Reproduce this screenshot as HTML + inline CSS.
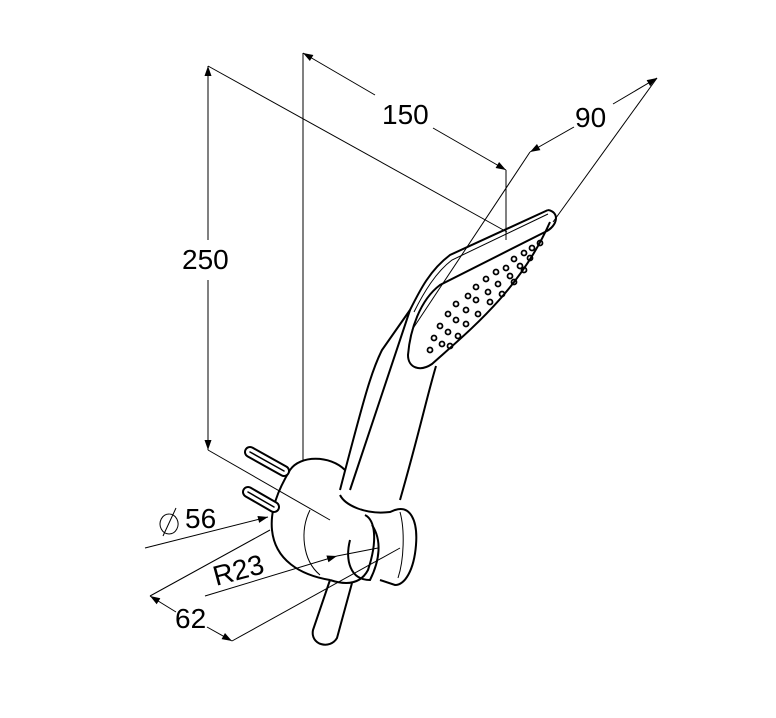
<!DOCTYPE html>
<html><head><style>html,body{margin:0;padding:0;background:#fff}svg{display:block}</style></head>
<body>
<svg width="776" height="718" viewBox="0 0 776 718" xmlns="http://www.w3.org/2000/svg" font-family="Liberation Sans, Arial, sans-serif">
<defs><marker id="a" viewBox="0 0 10 10" refX="10" refY="5" markerWidth="14" markerHeight="10" markerUnits="userSpaceOnUse" orient="auto-start-reverse"><path d="M0,1.5 L10,5 L0,8.5z" fill="#000"/></marker></defs>
<g stroke="#000" fill="none" stroke-width="1">
<line x1="208" y1="66" x2="208" y2="240" marker-start="url(#a)"/>
<line x1="208" y1="280" x2="208" y2="450" marker-end="url(#a)"/>
<line x1="208" y1="66" x2="507" y2="232"/>
<line x1="208" y1="450" x2="330" y2="520"/>
<line x1="303" y1="53" x2="303" y2="460"/>
<line x1="303" y1="53" x2="375" y2="95" marker-start="url(#a)"/>
<line x1="433" y1="128" x2="506" y2="170" marker-end="url(#a)"/>
<line x1="506" y1="170" x2="506" y2="240"/>
<line x1="530" y1="152" x2="574" y2="127" marker-start="url(#a)"/>
<line x1="613" y1="104" x2="657" y2="78" marker-end="url(#a)"/>
<line x1="530" y1="152" x2="412" y2="330"/>
<line x1="657" y1="78" x2="553" y2="222"/>
<g stroke-width="2">
<path d="M548,210 C560,212 558,226 545,232 L440,285 C420,300 410,330 408,355 C408,368 420,372 432,364 C470,330 520,290 550,222"/>
<path d="M548,210 L450,255 C430,270 420,290 410,310 L350,490"/>
<path d="M436,366 C426,400 420,430 400,500"/>
<path d="M410,310 L382,350 C372,370 366,390 340,490"/>
</g>
<path d="M548,214 L452,260 C436,272 424,292 414,312" />
<g stroke-width="2">
<path d="M290,470 C300,455 330,455 345,470 M290,470 C278,490 270,510 272,530 C275,560 300,575 330,580"/>
<path d="M340,495 C345,505 365,515 390,512 L395,510 C410,505 418,520 416,545 C414,570 405,585 395,585 L380,580"/>
<path d="M330,580 C345,585 360,585 368,570 C378,540 375,520 365,515"/>
<path d="M350,540 C345,560 350,580 370,580 C380,560 382,540 372,525"/>
<path d="M330,580 L313,630 C310,645 330,650 337,638 L352,583"/>
</g>
<g stroke-linecap="round">
<line x1="250" y1="452" x2="284" y2="471" stroke-width="12"/>
<line x1="250" y1="452" x2="284" y2="471" stroke-width="8" stroke="#fff"/>
<line x1="250" y1="452" x2="284" y2="471" stroke-width="1.5"/>
<line x1="248" y1="492" x2="274" y2="507" stroke-width="12"/>
<line x1="248" y1="492" x2="274" y2="507" stroke-width="8" stroke="#fff"/>
<line x1="248" y1="492" x2="274" y2="507" stroke-width="1.5"/>
</g>
<path d="M310,510 C300,530 302,560 320,575"/>
<path d="M400,512 C405,530 404,560 398,578"/>
<line x1="145" y1="548" x2="268" y2="517" marker-end="url(#a)"/>
<line x1="205" y1="596" x2="337" y2="556" marker-end="url(#a)"/>
<line x1="337" y1="556" x2="378" y2="548"/>
<line x1="150" y1="596" x2="270" y2="530"/>
<line x1="232" y1="641" x2="400" y2="548"/>
<line x1="150" y1="596" x2="176" y2="612" marker-start="url(#a)"/>
<line x1="207" y1="627" x2="232" y2="641" marker-end="url(#a)"/>
<path d="M169,514 a9,10 0 1,0 0.1,0 M163,536 L176,508"/>
</g>
<g fill="none" stroke="#000" stroke-width="1.8">
<circle cx="540" cy="243" r="2.5"/><circle cx="532" cy="248" r="2.5"/><circle cx="524" cy="253" r="2.5"/><circle cx="514" cy="259" r="2.5"/><circle cx="506" cy="268" r="2.5"/><circle cx="496" cy="272" r="2.5"/><circle cx="486" cy="279" r="2.5"/><circle cx="476" cy="287" r="2.5"/><circle cx="468" cy="296" r="2.5"/><circle cx="456" cy="304" r="2.5"/><circle cx="448" cy="314" r="2.5"/><circle cx="440" cy="326" r="2.5"/><circle cx="434" cy="338" r="2.5"/><circle cx="430" cy="350" r="2.5"/>
<circle cx="530" cy="258" r="2.5"/><circle cx="520" cy="266" r="2.5"/><circle cx="510" cy="276" r="2.5"/><circle cx="498" cy="284" r="2.5"/><circle cx="488" cy="292" r="2.5"/><circle cx="476" cy="300" r="2.5"/><circle cx="466" cy="310" r="2.5"/><circle cx="456" cy="320" r="2.5"/><circle cx="448" cy="332" r="2.5"/><circle cx="442" cy="344" r="2.5"/>
<circle cx="524" cy="270" r="2.5"/><circle cx="514" cy="282" r="2.5"/><circle cx="502" cy="294" r="2.5"/><circle cx="490" cy="302" r="2.5"/><circle cx="478" cy="314" r="2.5"/><circle cx="466" cy="324" r="2.5"/><circle cx="458" cy="336" r="2.5"/><circle cx="450" cy="346" r="2.5"/>
</g>
<g font-size="28" fill="#000">
<text x="382" y="124">150</text>
<text x="575" y="127">90</text>
<text x="182" y="269">250</text>
<text x="185" y="528">56</text>
<text x="216" y="586" transform="rotate(-15 216 586)">R23</text>
<text x="175" y="628">62</text>
</g>
</svg>
</body></html>
